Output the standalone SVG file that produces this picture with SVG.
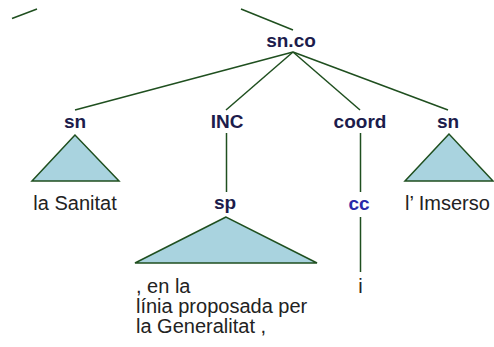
<svg xmlns="http://www.w3.org/2000/svg" width="494" height="347" viewBox="0 0 494 347">
<style>
.lab{font-family:"Liberation Sans",Arial,sans-serif;font-weight:bold;font-size:19px;fill:#1c1c4c;text-anchor:middle}
.cc{fill:#2a2aa8}
.leaf{font-family:"Liberation Sans",Arial,sans-serif;font-size:20px;fill:#222}
.mid{text-anchor:middle}
.ln{stroke:#1f4f1f;stroke-width:1.5;fill:none}
.tri{fill:#a9d3df;stroke:#1f4f1f;stroke-width:1.5}
</style>
<rect width="494" height="347" fill="#fff"/>
<g id="connectors">
<line class="ln" x1="12" y1="18.5" x2="37" y2="9"/>
<line class="ln" x1="241" y1="9" x2="293" y2="30"/>
<line class="ln" x1="293" y1="52" x2="75" y2="110"/>
<line class="ln" x1="293" y1="52" x2="226" y2="110"/>
<line class="ln" x1="293" y1="52" x2="360" y2="110"/>
<line class="ln" x1="293" y1="52" x2="448" y2="110"/>
<line class="ln" x1="226.5" y1="133" x2="226.5" y2="192"/>
<line class="ln" x1="360.5" y1="133" x2="360.5" y2="192"/>
<line class="ln" x1="360.5" y1="217" x2="360.5" y2="272"/>
</g>
<g id="n-snco"><text class="lab" x="291" y="47">sn.co</text></g>
<g id="n-sn1">
<text class="lab" x="75" y="128">sn</text>
<polygon class="tri" points="75,135 32,181 119,181"/>
<text class="leaf mid" x="75" y="210">la Sanitat</text>
</g>
<g id="n-inc"><text class="lab" x="227" y="128">INC</text></g>
<g id="n-sp">
<text class="lab" x="225" y="209">sp</text>
<polygon class="tri" points="226,217 135,263 317,263"/>
<text class="leaf" x="136" y="293">, en la</text>
<text class="leaf" x="136" y="313">línia proposada per</text>
<text class="leaf" x="136" y="333">la Generalitat ,</text>
</g>
<g id="n-coord"><text class="lab" x="360" y="128">coord</text></g>
<g id="n-cc">
<text class="lab cc" x="359" y="210">cc</text>
<text class="leaf mid" x="360.5" y="293">i</text>
</g>
<g id="n-sn2">
<text class="lab" x="448" y="128">sn</text>
<polygon class="tri" points="449,134 405,181 493,181"/>
<text class="leaf mid" x="447.5" y="210">l’ Imserso</text>
</g>
</svg>
